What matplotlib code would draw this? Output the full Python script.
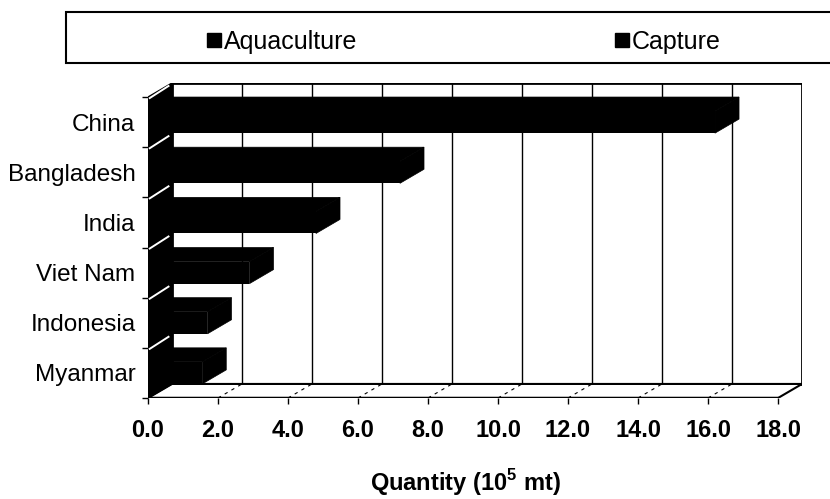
import matplotlib.pyplot as plt
from matplotlib.lines import Line2D
from matplotlib.patches import Polygon, Rectangle

# ── Data (10^5 mt) ────────────────────────────────────────────────────
countries = ["China", "Bangladesh", "India", "Viet Nam", "Indonesia", "Myanmar"]
aquaculture = [16.2, 7.2, 4.8, 2.9, 1.7, 1.55]
x_ticks = [0, 2, 4, 6, 8, 10, 12, 14, 16, 18]
legend_labels = ["Aquaculture", "Capture"]

# ── Style ─────────────────────────────────────────────────────────────
plt.rcParams["font.family"] = ["Liberation Sans", "DejaVu Sans"]
plt.rcParams["mathtext.fontset"] = "custom"
plt.rcParams["mathtext.rm"] = "Liberation Sans"
plt.rcParams["mathtext.bf"] = "Liberation Sans:bold"

BLACK = "black"
DX, DY = 0.686, 0.28      # oblique depth offset (value units, category units)
BAR_H = 0.44
XMAX = x_ticks[-1]

fig = plt.figure(figsize=(8.3, 4.99), dpi=100)
ax = fig.add_axes([0.1783, 0.2024, 0.788, 0.6313])

n = len(countries)
ypos = [n - 1 - i for i in range(n)]
y0, y1 = -0.5, n - 0.5

# back wall
ax.add_patch(Rectangle((DX, y0 + DY), XMAX, n, facecolor="white",
                       edgecolor=BLACK, lw=2, zorder=1))
for v in x_ticks[1:-1]:
    ax.plot([v + DX, v + DX], [y0 + DY, y1 + DY], color=BLACK, lw=1, zorder=2)

# floor
ax.add_patch(Polygon([(0, y0), (XMAX, y0), (XMAX + DX, y0 + DY), (DX, y0 + DY)],
                     closed=True, facecolor="white", edgecolor=BLACK, lw=1.5, zorder=2))
for v in x_ticks[1:-1]:
    ax.plot([v, v + DX], [y0, y0 + DY], color=BLACK, lw=0.8, ls=(0, (3, 4)), zorder=2)
ax.plot([0, XMAX], [y0, y0], color=BLACK, lw=2.5, zorder=3, solid_capstyle="butt")

# left (side) wall
ax.add_patch(Polygon([(0, y0), (0, y1), (DX, y1 + DY), (DX, y0 + DY)],
                     closed=True, facecolor=BLACK, edgecolor=BLACK, lw=1, zorder=3))
for b in range(n):
    yb = y0 + b + 1
    ax.plot([0.05, DX - 0.1], [yb - 0.02, yb + DY - 0.06], color="white", lw=1.4, zorder=4)

# bars: front face via barh, top + side faces as oblique polygons
ax.barh(ypos, aquaculture, height=BAR_H, color=BLACK, zorder=5)
for y, v in zip(ypos, aquaculture):
    top = y + BAR_H / 2
    bot = y - BAR_H / 2
    ax.add_patch(Polygon([(0, top), (v, top), (v + DX, top + DY), (DX, top + DY)],
                         closed=True, facecolor=BLACK, edgecolor=BLACK, lw=0.5, zorder=5))
    ax.add_patch(Polygon([(v, bot), (v, top), (v + DX, top + DY), (v + DX, bot + DY)],
                         closed=True, facecolor=BLACK, edgecolor=BLACK, lw=0.5, zorder=5))

ax.set_xlim(0, XMAX + DX)
ax.set_ylim(y0, y1 + DY)
for s in ax.spines.values():
    s.set_visible(False)

ax.set_xticks(x_ticks, [f"{v:.1f}" for v in x_ticks], fontsize=17, fontweight="bold")
ax.tick_params(axis="x", direction="out", length=4, width=1, pad=11)
ax.set_yticks(ypos, countries, fontsize=17.5)
ax.set_yticks([y0 + k for k in range(n + 1)], minor=True)
ax.tick_params(axis="y", which="major", length=0, pad=9)
ax.tick_params(axis="y", which="minor", direction="out", length=4, width=1)

ax.set_xlabel(r"Quantity (10$^{\mathbf{5}}$ mt)", fontsize=17, fontweight="bold")
ax.xaxis.set_label_coords(0.486, -0.22)

# legend strip across the top
fig.patches.append(Rectangle((66 / 830, 1 - 63 / 499), 0.95, 51 / 499,
                             transform=fig.transFigure, facecolor="white",
                             edgecolor=BLACK, lw=1.5))
handles = [Line2D([], [], marker="s", color=BLACK, ls="none", markersize=9.5)
           for _ in legend_labels]
fig.legend(handles, legend_labels, loc="center left", ncol=2,
           bbox_to_anchor=(195 / 830, 1 - 42 / 499), frameon=False, fontsize=18,
           borderpad=0, handlelength=0.55, handletextpad=0.12, columnspacing=10.3)

fig.savefig("out.png", dpi=100)
